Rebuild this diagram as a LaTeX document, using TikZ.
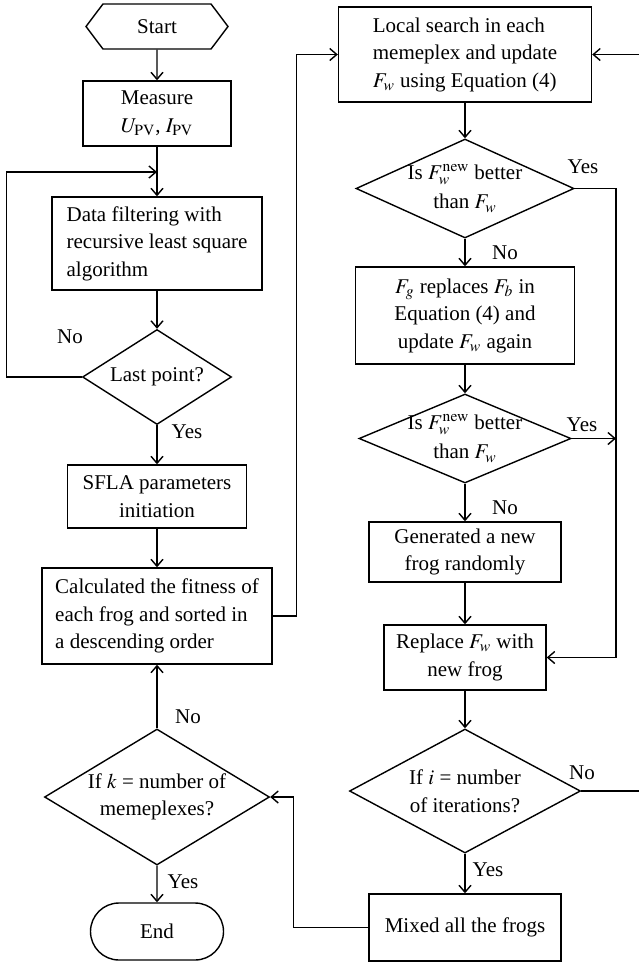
\documentclass[tikz,border=0pt]{standalone}
\usepackage{mathptmx}
\usepackage{fontspec}
\setmainfont{Liberation Serif}
\usetikzlibrary{shapes.geometric,shapes.misc,shapes.symbols,arrows.meta}
\tikzset{
  base/.style={draw, line width=0.7pt, font=\fontsize{10.5}{13.75}\selectfont, inner sep=2pt},
  proc/.style={base, rectangle},
  decide/.style={base, diamond, aspect=2, inner sep=-6pt},
  term/.style={base, rounded rectangle},
  lbl/.style={font=\fontsize{10.5}{13.75}\selectfont, inner sep=0pt},
}
\begin{document}
\begin{tikzpicture}[x=0.5pt, y=-0.5pt, line width=0.7pt, >={Straight Barb[length=3.5pt,width=6pt]}]
  \useasboundingbox (0,0) rectangle (638,964);
  % left column
  \node[base, signal, signal to=east and west, signal pointer angle=106,
        minimum width=71pt, minimum height=22.5pt] (start) at (157,26.5) {Start};
  \node[proc, minimum width=74pt, minimum height=32.5pt, align=center] (measure) at (157,113.5)
    {Measure\\$U_{\mathrm{PV}}$, $I_{\mathrm{PV}}$};
  \node[proc, minimum width=105pt, minimum height=46.5pt, align=left] (filter) at (157,243.5)
    {Data filtering with\\recursive least square\\algorithm};
  \node[decide, minimum width=74.5pt, minimum height=47.5pt] (last) at (157,377) {Last point?};
  \node[proc, minimum width=89.5pt, minimum height=31.5pt, align=center] (sfla) at (157,496.5)
    {SFLA parameters\\initiation};
  \node[proc, minimum width=115pt, minimum height=48pt, align=left] (calc) at (157,616)
    {Calculated the fitness of\\each frog and sorted in\\a descending order};
  \node[decide, minimum width=112.5pt, minimum height=68pt, align=center] (kdec) at (157,797)
    {If $k$ = number of\\memeplexes?};
  \node[term, minimum width=70.5pt, minimum height=28.5pt] (stop) at (157,931.5) {End};
  % right column
  \node[proc, minimum width=126.5pt, minimum height=47.5pt, align=left] (local) at (465,54.5)
    {Local search in each\\memeplex and update\\$F_w$ using Equation (4)};
  \node[decide, minimum width=109pt, minimum height=49.5pt, align=center] (dec1) at (465,188.5)
    {Is $F_w^{\mathrm{new}}$ better\\[1pt]than $F_w$};
  \node[proc, minimum width=109.5pt, minimum height=48.5pt, align=center] (fg) at (465,315.5)
    {$F_g$ replaces $F_b$ in\\Equation (4) and\\update $F_w$ again};
  \node[decide, minimum width=106pt, minimum height=44.5pt, align=center] (dec2) at (465,438.5)
    {Is $F_w^{\mathrm{new}}$ better\\[1pt]than $F_w$};
  \node[proc, minimum width=96pt, minimum height=30pt, align=center] (gen) at (465,552)
    {Generated a new\\frog randomly};
  \node[proc, minimum width=81pt, minimum height=32.5pt, align=center] (repl) at (465,657.5)
    {Replace $F_w$ with\\new frog};
  \node[decide, minimum width=115.5pt, minimum height=62pt, align=center] (idec) at (465,791)
    {If $i$ = number\\of iterations?};
  \node[proc, minimum width=96pt, minimum height=33.5pt] (mixed) at (465,927.5) {Mixed all the frogs};
  \coordinate (jl) at (157,172);
  \coordinate (rail) at (616,0);
  % labels
  \node[lbl] (no1) at (70,337) {No};
  \node[lbl] (yes1) at (187,432) {Yes};
  \node[lbl] (yes2) at (583,167) {Yes};
  \node[lbl] (no2) at (505,253) {No};
  \node[lbl] (yes3) at (582,425) {Yes};
  \node[lbl] (no3) at (505,508) {No};
  \node[lbl] (no4) at (582,773) {No};
  \node[lbl] (yes4) at (488,870) {Yes};
  \node[lbl] (no5) at (188,717) {No};
  \node[lbl] (yes5) at (183,882) {Yes};
  % connectors
  \draw[->] (start) -- (measure);
  \draw[->] (measure) -- (filter);
  \draw[->] (filter) -- (last);
  \draw[->] (last.west) -- ++(-75.5,0) |- (jl);
  \draw[->] (last) -- (sfla);
  \draw[->] (sfla) -- (calc);
  \draw[->] (calc.east) -- ++(24,0) |- (local.west);
  \draw[->] (local) -- (dec1);
  \draw[->] (dec1) -- (fg);
  \draw[->] (dec1.east) -- (dec1.east -| rail) |- (repl.east);
  \draw[->] (fg) -- (dec2);
  \draw[->] (dec2.east) -- (dec2.east -| rail);
  \draw[->] (dec2) -- (gen);
  \draw[->] (gen) -- (repl);
  \draw[->] (repl) -- (idec);
  \draw[->] (idec.east) -- ++(60,0) |- (local.east);
  \draw[->] (idec) -- (mixed);
  \draw[->] (mixed.west) -- ++(-75,0) |- (kdec.east);
  \draw[->] (kdec) -- (calc);
  \draw[->] (kdec) -- (stop);
\end{tikzpicture}
\end{document}
